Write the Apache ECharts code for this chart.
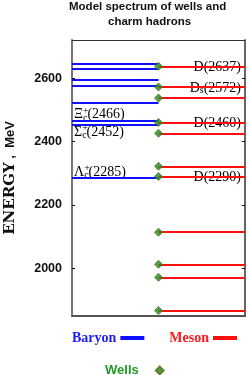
<!DOCTYPE html>
<html>
<head>
<meta charset="utf-8">
<script src="https://cdn.jsdelivr.net/npm/echarts@6/dist/echarts.min.js"></script>
<style>html,body{margin:0;padding:0;background:#fff;}#c{width:248px;height:375px;}</style>
</head>
<body>
<div id="c"></div>
<script>
// Energy levels (MeV)
var baryonLevels = [2644, 2628, 2595, 2576, 2521, 2466, 2452, 2285];
var mesonLevels = [2637, 2572, 2537, 2460, 2426, 2322, 2290, 2114, 2013, 1972, 1867];
var wellLevels = [2637, 2572, 2537, 2460, 2426, 2322, 2290, 2114, 2013, 1972, 1867];
var baryonLabels = [
  {sym: 'Ξ', mass: 2466, dy: -6},
  {sym: 'Σ', mass: 2452, dy: 7},
  {sym: 'Λ', mass: 2285, dy: -6}
];
var mesonLabels = [
  {name: 'D', sub: '', mass: 2637},
  {name: 'D', sub: 's', mass: 2572},
  {name: 'D', sub: '', mass: 2460},
  {name: 'D', sub: '', mass: 2290}
];
var yTicks = [2000, 2200, 2400, 2600];
var yMin = 1850, yMax = 2720;
var wellX = 0.5;

var chart = echarts.init(document.getElementById('c'), null, {renderer: 'canvas'});
var serif = 'Liberation Serif';
var sans = 'Liberation Sans';

var richBase = {
  b: {fontFamily: serif, fontSize: 14, color: '#000', lineHeight: 16},
  p: {fontFamily: serif, fontSize: 10, color: '#000', width: 0, padding: [0, 0, 7, 0]},
  s: {fontFamily: serif, fontSize: 10, color: '#000', padding: [7, 0, 0, 0]}
};

var option = {
  animation: false,
  graphic: [{
    type: 'text', left: 155 - 86, top: 1,
    style: {text: 'Model spectrum of wells and', font: 'bold 11.5px Liberation Sans', fill: '#111'}
  }, {
    type: 'text', left: 108, top: 16,
    style: {text: 'charm hadrons', font: 'bold 11.5px Liberation Sans', fill: '#111'}
  }],
  grid: {left: 72, right: 3, top: 40, bottom: 59, containLabel: false, outerBoundsMode: 'none'},
  xAxis: [{
    type: 'value', min: 0, max: 1, position: 'bottom',
    axisLine: {show: true, onZero: false, lineStyle: {color: '#555', width: 2}},
    axisTick: {show: false}, axisLabel: {show: false}, splitLine: {show: false}
  }, {
    type: 'value', min: 0, max: 1, position: 'top',
    axisLine: {show: true, onZero: false, lineStyle: {color: '#333', width: 1}},
    axisTick: {show: false}, axisLabel: {show: false}, splitLine: {show: false}
  }],
  yAxis: [{
    type: 'value', min: yMin, max: yMax, position: 'left',
    name: '{a|ENERGY}{b| ,  MeV}', nameLocation: 'middle', nameGap: 54, nameRotate: 90,
    nameTextStyle: {rich: {
      a: {fontFamily: 'DejaVu Serif', fontWeight: 'bold', fontSize: 15, color: '#111'},
      b: {fontFamily: sans, fontWeight: 'bold', fontSize: 13, color: '#111'}
    }},
    axisLine: {show: true, onZero: false, lineStyle: {color: '#777', width: 2}},
    axisTick: {show: true, inside: true, length: 3, customValues: yTicks, lineStyle: {color: '#111'}},
    axisLabel: {show: true, customValues: yTicks, margin: 10, fontFamily: sans, fontWeight: 'bold', fontSize: 12.5, color: '#111',
      formatter: function (v) { return String(v); }},
    splitLine: {show: false}
  }, {
    type: 'value', min: yMin, max: yMax, position: 'right',
    axisLine: {show: true, onZero: false, lineStyle: {color: '#666', width: 2}},
    axisTick: {show: true, inside: true, length: 3, customValues: yTicks, lineStyle: {color: '#111'}},
    axisLabel: {show: false}, splitLine: {show: false}
  }],
  legend: [{
    left: 72, top: 331, padding: 0, itemGap: 25, align: 'right', itemWidth: 22, itemHeight: 2,
    data: [
      {name: 'Baryon', icon: 'rect', textStyle: {color: '#1a1aff'}},
      {name: 'Meson', icon: 'rect', textStyle: {color: '#ff1a1a'}}
    ],
    textStyle: {fontFamily: serif, fontWeight: 'bold', fontSize: 14}
  }, {
    left: 105, top: 364, padding: 0, align: 'right', itemWidth: 8, itemHeight: 8,
    data: [{name: 'Wells', icon: 'diamond'}],
    formatter: '{w|{name}}',
    textStyle: {rich: {w: {fontFamily: sans, fontWeight: 'bold', fontSize: 13, color: '#229922', padding: [0, 12, 0, 0]}}}
  }],
  series: [{
    name: 'Baryon', type: 'lines', coordinateSystem: 'cartesian2d', z: 3,
    lineStyle: {color: '#1010ff', width: 2, opacity: 1},
    itemStyle: {color: '#1010ff'},
    data: baryonLevels.map(function (e) { return {coords: [[0, e], [wellX, e]]}; })
  }, {
    name: 'Meson', type: 'lines', coordinateSystem: 'cartesian2d', z: 3,
    lineStyle: {color: '#ff1010', width: 2, opacity: 1},
    itemStyle: {color: '#ff1010'},
    data: mesonLevels.map(function (e) { return {coords: [[wellX, e], [1, e]]}; })
  }, {
    name: 'Wells', type: 'scatter', symbol: 'diamond', symbolSize: 8, z: 5,
    itemStyle: {color: '#228b22', borderColor: '#5a6b1a', borderWidth: 1},
    data: wellLevels.map(function (e) { return [wellX, e]; })
  }, {
    type: 'scatter', symbolSize: 0, z: 2, silent: true,
    data: baryonLabels.map(function (d) {
      return {
        value: [0, d.mass],
        label: {show: true, position: 'right', distance: 2, offset: [0, d.dy], opacity: 1,
          formatter: '{b|' + d.sym + '}{p|+}{s|c}{b|(' + d.mass + ')}', rich: richBase}
      };
    })
  }, {
    type: 'scatter', symbolSize: 0, z: 2, silent: true,
    data: mesonLabels.map(function (d) {
      return {
        value: [1, d.mass],
        label: {show: true, position: 'left', distance: 4, offset: [0, 1], opacity: 1,
          formatter: '{b|' + d.name + '}' + (d.sub ? '{s|' + d.sub + '}' : '') + '{b|(' + d.mass + ')}',
          rich: {b: richBase.b, s: {fontFamily: serif, fontSize: 10, color: '#000', padding: [5, 0, 0, 0]}}}
      };
    })
  }]
};
chart.setOption(option);
</script>
</body>
</html>
